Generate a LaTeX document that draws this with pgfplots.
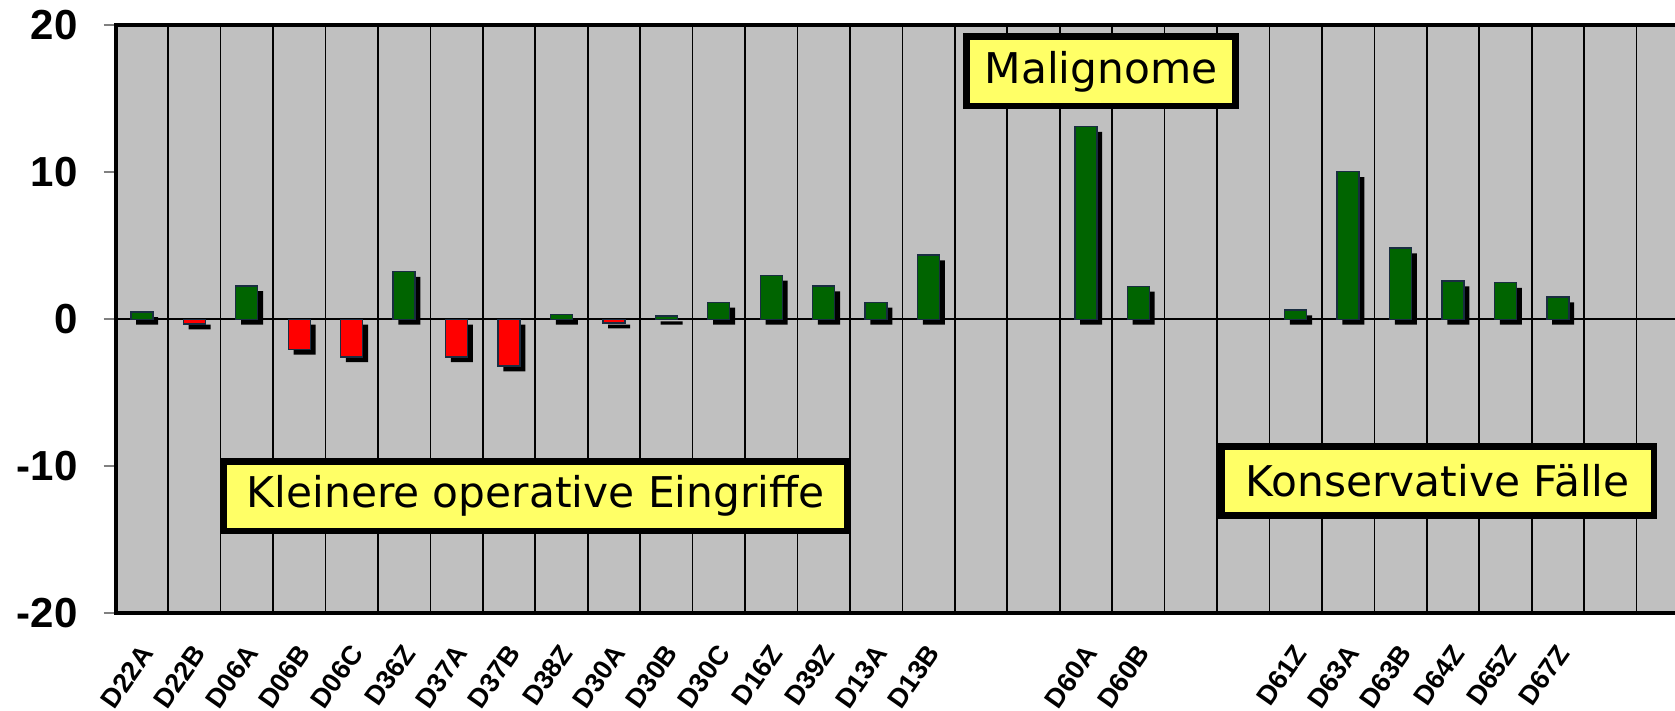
\documentclass[border=0pt]{standalone}
\usepackage{fontspec}
\setmainfont{Liberation Sans}
\newfontfamily\boxfont{DejaVu Sans}
\usepackage{pgfplots}
\pgfplotsset{compat=1.18}
\definecolor{plotgray}{RGB}{192,192,192}
\definecolor{bargreen}{RGB}{0,100,0}
\definecolor{barred}{RGB}{255,0,0}
\definecolor{baredge}{RGB}{25,45,65}
\definecolor{noteyellow}{RGB}{255,255,102}

\begin{document}
\begin{tikzpicture}
\begin{axis}[
  name=main,
  scale only axis,
  width=472pt, height=176.55pt,
  xmin=-0.5, xmax=29.5,
  ymin=-20, ymax=20,
  axis background/.style={fill=plotgray},
  axis line style={line width=1.2pt},
  ytick={-20,-10,0,10,20},
  ytick align=outside,
  major tick length=3.6pt,
  ytick style={line width=0.6pt},
  yticklabel style={font=\fontsize{12.6}{14}\selectfont\bfseries, xshift=-4.3pt},
  /pgf/number format/assume math mode=true,
  xtick={0,1,2,3,4,5,6,7,8,9,10,11,12,13,14,15,18,19,22,23,24,25,26,27},
  xticklabels={D22A,D22B,D06A,D06B,D06C,D36Z,D37A,D37B,D38Z,D30A,D30B,D30C,D16Z,D39Z,D13A,D13B,D60A,D60B,D61Z,D63A,D63B,D64Z,D65Z,D67Z},
  xtick style={draw=none},
  xticklabel style={xshift=1.6pt, yshift=-6.7pt, rotate=55, anchor=east, inner sep=0pt,
    font=\fontsize{8.1}{10}\selectfont\bfseries},
  minor xtick={-0.5,0.5,...,28.5},
  minor tick length=0pt,
  xminorgrids,
  minor grid style={black, line width=0.5pt},
  ybar, bar width=0.42, bar shift=0pt,
  every axis plot/.append style={
    draw=baredge, line width=0.4pt,
    preaction={fill=black, draw=none, transform canvas={xshift=1.6pt, yshift=-1.6pt}}},
  clip=false,
]
\draw[black, line width=0.6pt] (axis cs:-0.5,0) -- (axis cs:29.5,0);
% Zunahme
\addplot[fill=bargreen] coordinates {
  (0,0.5) (2,2.27) (5,3.24) (8,0.34) (10,0.22) (11,1.16) (12,2.98)
  (13,2.25) (14,1.16) (15,4.36) (18,13.1) (19,2.24)
  (22,0.63) (23,10.03) (24,4.84) (25,2.6) (26,2.49) (27,1.51)};
% Abnahme
\addplot[fill=barred] coordinates {
  (1,-0.33) (3,-2.04) (4,-2.56) (6,-2.56) (7,-3.18) (9,-0.25)};
\node[draw=black, line width=2pt, fill=noteyellow, inner sep=0pt,
  minimum width=80.6pt, minimum height=20.8pt,
  font=\boxfont\fontsize{12.7}{14}\selectfont] at (axis cs:18.29,16.84) {Malignome};
\node[draw=black, line width=2pt, fill=noteyellow, inner sep=0pt,
  minimum width=187pt, minimum height=20.8pt,
  font=\boxfont\fontsize{12.7}{14}\selectfont] at (axis cs:7.51,-12.03) {Kleinere operative Eingriffe};
\node[draw=black, line width=2pt, fill=noteyellow, inner sep=0pt,
  minimum width=129.7pt, minimum height=20.8pt,
  font=\boxfont\fontsize{12.7}{14}\selectfont] at (axis cs:24.71,-11.0) {Konservative Fälle};
\end{axis}
\pgfresetboundingbox
\path[use as bounding box] ([shift={(-34.7pt,-29.25pt)}]main.south west)
  rectangle ([shift={(467.8pt,7.5pt)}]main.north west);
\end{tikzpicture}
\end{document}
